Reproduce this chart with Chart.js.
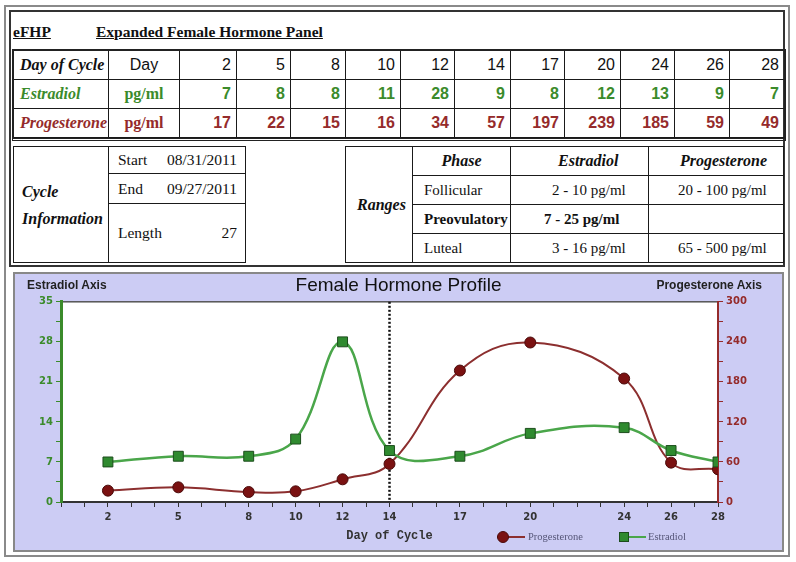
<!DOCTYPE html>
<html><head><meta charset="utf-8">
<script src="https://cdn.jsdelivr.net/npm/chart.js@4"></script>
<style>
html,body{margin:0;padding:0;background:#fff;}
body{width:796px;height:562px;position:relative;overflow:hidden;font-family:"Liberation Serif","Times New Roman",serif;color:#111;}
.abs{position:absolute;box-sizing:border-box;}
.cell{position:absolute;box-sizing:border-box;border:1px solid #1a1a1a;display:flex;align-items:center;white-space:nowrap;overflow:hidden;font-size:16px;}
.lbl{font-weight:bold;font-style:italic;padding-left:6px;}
.unit{justify-content:center;}
.num{justify-content:flex-end;padding-right:5px;font-family:"Liberation Sans",Arial,sans-serif;}
.green{color:#3b8b2b;}
.red{color:#952b2b;}
.hdr{font-size:15.5px;font-weight:bold;text-decoration:underline;}
.ci{font-size:15.5px;}
.rg{font-size:15px;}
</style></head>
<body>
<div class="abs" style="left:4px;top:5px;width:786px;height:552px;border:2px solid #8a8a8a;"></div>
<div class="abs" style="left:9px;top:10px;width:776px;height:257px;border:2px solid #333;"></div>
<div class="abs hdr" style="left:13px;top:23px;line-height:18px;">eFHP</div>
<div class="abs hdr" style="left:96px;top:23px;line-height:18px;">Expanded Female Hormone Panel</div>
<div id="tables"></div>
<div class="abs" style="left:13px;top:272px;width:771px;height:280px;border:2px solid #888;background:#ccccf4;">
  <canvas id="c" width="767" height="276" style="position:absolute;left:0;top:0;width:767px;height:276px;"></canvas>
</div>
<div class="abs" style="left:27px;top:278px;line-height:14px;font:bold 12px 'Liberation Sans',Arial,sans-serif;color:#222;">Estradiol Axis</div>
<div class="abs" style="right:34px;top:278px;line-height:14px;font:bold 12px 'Liberation Sans',Arial,sans-serif;color:#222;">Progesterone Axis</div>
<div id="legend"></div>
<script>
const days = [2, 5, 8, 10, 12, 14, 17, 20, 24, 26, 28];
const estradiol = [7, 8, 8, 11, 28, 9, 8, 12, 13, 9, 7];
const progesterone = [17, 22, 15, 16, 34, 57, 197, 239, 185, 59, 49];
const estradiolTicks = [0, 7, 14, 21, 28, 35];
const progesteroneTicks = [0, 60, 120, 180, 240, 300];
const ovulationDay = 14;
const cycleStart = '08/31/2011';
const cycleEnd = '09/27/2011';
const cycleLength = 27;
const rangePhases = ['Follicular', 'Preovulatory', 'Luteal'];
const rangeEstradiol = ['2 - 10 pg/ml', '7 - 25 pg/ml', '3 - 16 pg/ml'];
const rangeProgesterone = ['20 - 100 pg/ml', '', '65 - 500 pg/ml'];

const host = document.getElementById('tables');
function cell(x1, y1, x2, y2, html, cls, style) {
  const d = document.createElement('div');
  d.className = 'cell ' + (cls || '');
  d.style.left = x1 + 'px'; d.style.top = y1 + 'px';
  d.style.width = (x2 - x1 + 1) + 'px'; d.style.height = (y2 - y1 + 1) + 'px';
  if (style) d.style.cssText += style;
  d.innerHTML = html;
  host.appendChild(d);
  return d;
}
// main table
const X = [13, 108, 179, 236, 290, 345, 400, 454, 510, 564, 620, 674, 729, 784];
const Y = [50, 79, 108, 137];
const rows = [
  {label: 'Day of Cycle', unit: 'Day', vals: days, col: '', numStyle: ''},
  {label: 'Estradiol', unit: 'pg/ml', vals: estradiol, col: 'green', numStyle: 'font-weight:bold;'},
  {label: 'Progesterone', unit: 'pg/ml', vals: progesterone, col: 'red', numStyle: 'font-weight:bold;'}
];
rows.forEach((r, ri) => {
  const y1 = Y[ri], y2 = Y[ri + 1];
  cell(X[0], y1, X[1], y2, r.label, 'lbl ' + r.col);
  if (ri === 0) cell(X[1], y1, X[2], y2, r.unit, 'unit', 'font-family:"Liberation Sans",Arial,sans-serif;');
  else cell(X[1], y1, X[2], y2, r.unit, 'unit ' + r.col, 'font-weight:bold;');
  r.vals.forEach((v, i) => cell(X[i + 2], y1, X[i + 3], y2, String(v), 'num ' + r.col, r.numStyle));
});
const outline = document.createElement('div');
outline.className = 'abs';
outline.style.cssText = 'left:12px;top:49px;width:774px;height:92px;border:2px solid #222;border-bottom:3px double #222;';
host.appendChild(outline);

// cycle info
cell(13, 146, 108, 262, 'Cycle<br>Information', 'lbl', 'padding-left:8px;line-height:27px;');
cell(108, 146, 245, 173, '<span>Start</span><span>' + cycleStart + '</span>', 'ci', 'justify-content:space-between;padding:0 8px 0 9px;');
cell(108, 173, 245, 203, '<span>End</span><span>' + cycleEnd + '</span>', 'ci', 'justify-content:space-between;padding:0 8px 0 9px;');
cell(108, 203, 245, 262, '<span>Length</span><span>' + cycleLength + '</span>', 'ci', 'justify-content:space-between;padding:0 8px 0 9px;');

// ranges
const RX = [345, 412, 510, 648, 783];
const RY = [146, 175, 204, 233, 262];
cell(RX[0], RY[0], RX[1], RY[4], 'Ranges', 'lbl', 'padding-left:11px;');
cell(RX[1], RY[0], RX[2], RY[1], 'Phase', 'lbl', 'justify-content:center;padding-left:0;');
cell(RX[2], RY[0], RX[3], RY[1], 'Estradiol', 'lbl', 'padding-left:47px;');
cell(RX[3], RY[0], RX[4], RY[1], 'Progesterone', 'lbl', 'padding-left:31px;');
rangePhases.forEach((p, i) => {
  const bold = i === 1 ? 'font-weight:bold;' : '';
  cell(RX[1], RY[i + 1], RX[2], RY[i + 2], p, 'rg', 'padding-left:11px;' + bold);
  cell(RX[2], RY[i + 1], RX[3], RY[i + 2], rangeEstradiol[i], 'rg', (i === 1 ? 'padding-left:33px;' : 'padding-left:41px;') + bold);
  cell(RX[3], RY[i + 1], RX[4], RY[i + 2], rangeProgesterone[i], 'rg', 'padding-left:29px;');
});

// legend (HTML)
const lg = document.getElementById('legend');
lg.innerHTML =
  '<div class="abs" style="left:497px;top:536px;width:28px;height:2px;background:#8c2f2f;"></div>' +
  '<div class="abs" style="left:497px;top:531px;width:12px;height:12px;border-radius:50%;background:#7a1111;border:1px solid #4b0b0b;"></div>' +
  '<div class="abs" style="left:528px;top:530px;line-height:14px;font-size:10.5px;color:#555577;">Progesterone</div>' +
  '<div class="abs" style="left:620px;top:536px;width:26px;height:2px;background:#4aa64a;"></div>' +
  '<div class="abs" style="left:619px;top:532px;width:10px;height:10px;background:#2f8a2f;border:1px solid #1c4d1c;"></div>' +
  '<div class="abs" style="left:648px;top:530px;line-height:14px;font-size:10.5px;color:#555577;">Estradiol</div>';

const plotArea = {
  id: 'plotArea',
  beforeDraw(c) {
    const {ctx, chartArea: a} = c;
    ctx.save();
    ctx.fillStyle = '#ffffff';
    ctx.fillRect(a.left, a.top, a.width, a.height);
    ctx.strokeStyle = '#555';
    ctx.lineWidth = 1.5;
    ctx.strokeRect(a.left, a.top, a.width, a.height);
    ctx.restore();
  }
};
const ovulationLine = {
  id: 'ovulationLine',
  beforeDatasetsDraw(c) {
    const {ctx, chartArea: a} = c;
    const x = c.scales.x.getPixelForValue(ovulationDay);
    ctx.save();
    ctx.strokeStyle = '#111';
    ctx.lineWidth = 2.5;
    ctx.setLineDash([2, 2]);
    ctx.beginPath();
    ctx.moveTo(x, a.top);
    ctx.lineTo(x, a.bottom);
    ctx.stroke();
    ctx.restore();
  }
};
const green = '#3b8b2b', red = '#952b2b';
const tickFont = {family: 'DejaVu Sans', weight: 'bold', size: 10};
new Chart(document.getElementById('c'), {
  type: 'line',
  data: {
    datasets: [
      {label: 'Estradiol', data: days.map((d, i) => ({x: d, y: estradiol[i]})), yAxisID: 'yE',
        borderColor: '#4aa64a', borderWidth: 2.5, pointStyle: 'rect', pointRadius: 7,
        pointBackgroundColor: '#2f8a2f', pointBorderColor: '#1c4d1c', pointBorderWidth: 1,
        tension: 0.4, order: 1},
      {label: 'Progesterone', data: days.map((d, i) => ({x: d, y: progesterone[i]})), yAxisID: 'yP',
        borderColor: '#8c2f2f', borderWidth: 2, pointStyle: 'circle', pointRadius: 5.5,
        pointBackgroundColor: '#7a1111', pointBorderColor: '#4b0b0b', pointBorderWidth: 1,
        tension: 0.4, order: 2}
    ]
  },
  options: {
    responsive: false, animation: false,
    layout: {padding: 0},
    plugins: {
      legend: {display: false}, tooltip: {enabled: false},
      title: {display: true, text: 'Female Hormone Profile', color: '#111',
        font: {family: 'Liberation Sans', size: 19, weight: 'normal'}, padding: {top: 0, bottom: 5}}
    },
    scales: {
      x: {type: 'linear', min: 0, max: 28,
        ticks: {stepSize: 1, autoSkip: false, maxRotation: 0, color: '#333', font: tickFont, padding: 4,
          callback: v => days.includes(v) ? String(v) : ''},
        grid: {drawOnChartArea: false, tickLength: 5, tickColor: '#333'},
        border: {color: '#333', width: 2},
        title: {display: true, text: 'Day of Cycle', color: '#333',
          font: {family: 'Liberation Mono', weight: 'bold', size: 12}, padding: {top: 0, bottom: 7}},
        afterFit(s) { s.height = 48; }},
      yE: {position: 'left', min: 0, max: 35,
        ticks: {stepSize: 3.5, autoSkip: false, color: green, font: tickFont, padding: 3,
          callback: v => estradiolTicks.includes(v) ? String(v) : ''},
        grid: {drawOnChartArea: false, tickLength: 5, tickColor: green},
        border: {color: green, width: 3},
        afterFit(s) { s.width = 46; }},
      yP: {position: 'right', min: 0, max: 300,
        ticks: {stepSize: 30, autoSkip: false, color: red, font: tickFont, padding: 3,
          callback: v => progesteroneTicks.includes(v) ? String(v) : ''},
        grid: {drawOnChartArea: false, tickLength: 5, tickColor: red},
        border: {color: red, width: 2},
        afterFit(s) { s.width = 64; }}
    }
  },
  plugins: [plotArea, ovulationLine]
});
</script>
</body></html>
